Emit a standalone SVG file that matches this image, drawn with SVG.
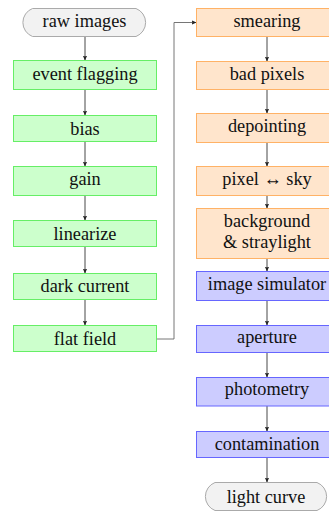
<svg xmlns="http://www.w3.org/2000/svg" width="329" height="511" viewBox="0 0 329 511">
  <style>
    text { font-family: "Liberation Serif", Tinos, "Times New Roman", "DejaVu Serif", serif; font-size: 18.3px; fill: #111; text-anchor: middle; }
    .cal { fill: #ccffcc; stroke: #66ee66; stroke-width: 1; }
    .proc { fill: #ffe5cc; stroke: #ffb266; stroke-width: 1; }
    .phot { fill: #ccccff; stroke: #6666ff; stroke-width: 1; }
    .term { fill: #f2f2f2; stroke: #aaaaaa; stroke-width: 1; }
    .edge { fill: none; stroke: #333; stroke-width: 0.9; marker-end: url(#arrow); }
  </style>
  <defs>
    <marker id="arrow" markerUnits="userSpaceOnUse" markerWidth="6" markerHeight="6" refX="5" refY="2.2" orient="auto">
      <path d="M0,0 L5,2.2 L0,4.4 L1,2.2 z" fill="#222"/>
    </marker>
  </defs>

  <g id="connectors">
    <line class="edge" x1="85" y1="36.5" x2="85" y2="60.5"/>
    <line class="edge" x1="85" y1="89.5" x2="85" y2="115.5"/>
    <line class="edge" x1="85" y1="141.5" x2="85" y2="166.5"/>
    <line class="edge" x1="85" y1="195.5" x2="85" y2="220.5"/>
    <line class="edge" x1="85" y1="246.5" x2="85" y2="273.5"/>
    <line class="edge" x1="85" y1="299.5" x2="85" y2="325.5"/>
    <polyline class="edge" points="156.5,339 174,339 174,22.5 196.5,22.5" style="stroke:#666"/>
    <line class="edge" x1="267" y1="36.5" x2="267" y2="61.5"/>
    <line class="edge" x1="267" y1="89.5" x2="267" y2="113.5"/>
    <line class="edge" x1="267" y1="142.5" x2="267" y2="166.5"/>
    <line class="edge" x1="267" y1="195.5" x2="267" y2="208.5"/>
    <line class="edge" x1="267" y1="258.5" x2="267" y2="271.5"/>
    <line class="edge" x1="267" y1="300.5" x2="267" y2="325.5"/>
    <line class="edge" x1="267" y1="352.5" x2="267" y2="377.5"/>
    <line class="edge" x1="267" y1="406" x2="267" y2="431.5"/>
    <line class="edge" x1="267" y1="457.5" x2="267" y2="482.5"/>
  </g>

  <g font-family="'Liberation Serif', Tinos, 'DejaVu Serif', serif">
  <g id="raw-images">
    <path class="term" d="M32.5,8.5 H136 A15,15 0 0 1 136,36.5 H32.5 A15,15 0 0 1 32.5,8.5 Z"/>
    <text x="84.5" y="27">raw images</text>
  </g>
  <g id="event-flagging">
    <rect class="cal" x="13.5" y="60.5" width="143" height="29"/>
    <text x="85" y="80">event flagging</text>
  </g>
  <g id="bias">
    <rect class="cal" x="13.5" y="115.5" width="143" height="26"/>
    <text x="85" y="135">bias</text>
  </g>
  <g id="gain">
    <rect class="cal" x="13.5" y="166.5" width="143" height="29"/>
    <text x="85" y="185">gain</text>
  </g>
  <g id="linearize">
    <rect class="cal" x="13.5" y="220.5" width="143" height="26"/>
    <text x="85" y="240">linearize</text>
  </g>
  <g id="dark-current">
    <rect class="cal" x="13.5" y="273.5" width="143" height="26"/>
    <text x="85" y="292">dark current</text>
  </g>
  <g id="flat-field">
    <rect class="cal" x="13.5" y="325.5" width="143" height="26"/>
    <text x="85" y="345">flat field</text>
  </g>

  <g id="smearing">
    <rect class="proc" x="196.5" y="8.5" width="142" height="28"/>
    <text x="267" y="27">smearing</text>
  </g>
  <g id="bad-pixels">
    <rect class="proc" x="196.5" y="61.5" width="142" height="28"/>
    <text x="267" y="79.5">bad pixels</text>
  </g>
  <g id="depointing">
    <rect class="proc" x="196.5" y="113.5" width="142" height="29"/>
    <text x="267" y="132">depointing</text>
  </g>
  <g id="pixel-sky">
    <rect class="proc" x="196.5" y="166.5" width="142" height="29"/>
    <text x="267" y="184.5">pixel ↔ sky</text>
  </g>
  <g id="background-straylight">
    <rect class="proc" x="196.5" y="208.5" width="142" height="50"/>
    <text x="267" y="227">background</text>
    <text x="267" y="248">&amp; straylight</text>
  </g>
  <g id="image-simulator">
    <rect class="phot" x="196.5" y="271.5" width="142" height="29"/>
    <text x="267" y="289.5">image simulator</text>
  </g>
  <g id="aperture">
    <rect class="phot" x="196.5" y="325.5" width="142" height="27"/>
    <text x="267" y="343">aperture</text>
  </g>
  <g id="photometry">
    <rect class="phot" x="196.5" y="377.5" width="142" height="28.5"/>
    <text x="267" y="394.5">photometry</text>
  </g>
  <g id="contamination">
    <rect class="phot" x="196.5" y="431.5" width="142" height="26"/>
    <text x="267" y="450">contamination</text>
  </g>
  <g id="light-curve">
    <path class="term" d="M215,482.5 H317 A15,15 0 0 1 317,510.5 H215 A15,15 0 0 1 215,482.5 Z"/>
    <text x="266" y="502.5">light curve</text>
  </g>
  </g>
</svg>
